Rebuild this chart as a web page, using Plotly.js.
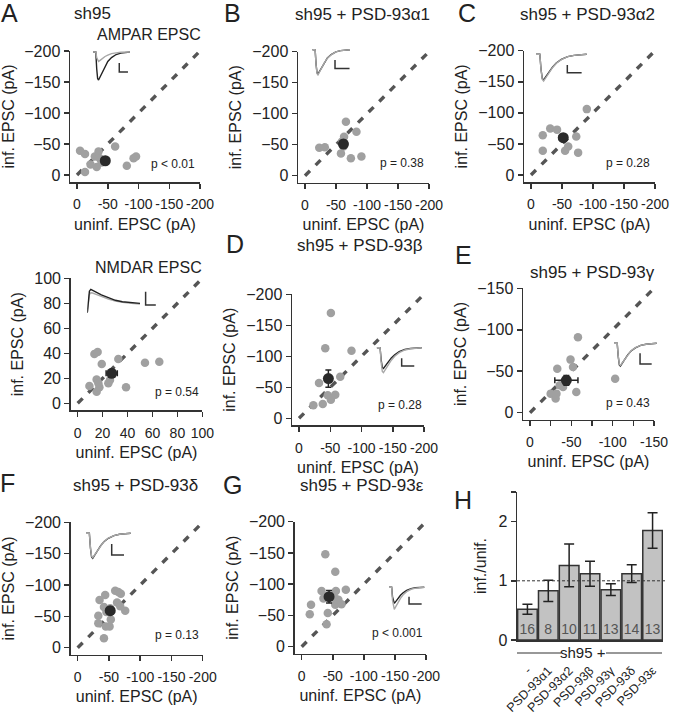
<!DOCTYPE html>
<html>
<head>
<meta charset="utf-8">
<script src="https://cdn.plot.ly/plotly-3.0.1.min.js"></script>
<style>
  html, body { margin: 0; padding: 0; background: #fff; }
  #fig { width: 678px; height: 719px; }
</style>
</head>
<body>
<div id="fig"></div>
<script>
const W = 678, H = 719;

// paired recordings, uninfected vs infected EPSC amplitude (pA)
const aUninf = [-13, -5, -13, -22, -32, -35, -29, -37, -62, -81, -92, -96, -40];
const aInf   = [-5, -39, -34, -17, -13, -38, -30, -27, -46, -15, -27, -30, -20];
const aMean = [-46, -23], aErr = [5, 4];

const bUninf = [-23, -32, -58, -66, -63, -60, -74, -83, -91, -62];
const bInf   = [-45, -46, -36, -87, -63, -55, -28, -71, -31, -47];
const bMean = [-62, -51], bErr = [6, 6];

const cUninf = [-19, -19, -31, -42, -55, -60, -73, -76, -90, -51];
const cInf   = [-64, -39, -75, -73, -39, -46, -62, -36, -106, -59];
const cMean = [-52, -60], cErr = [6, 5];

const nUninf = [9.4, 13.4, 16, 15.2, 15.2, 17.4, 19.3, 24.6, 25.9, 32.6, 38.8, 54, 65.5, 16.6];
const nInf   = [13.9, 39.5, 41, 19, 9.3, 12.8, 31.5, 16, 18.7, 35.5, 12.8, 32.5, 33.3, 16];
const nMean = [27.3, 24], nErr = [4.5, 2.5];

const dUninf = [-51, -42, -84, -32, -66, -23, -38, -46, -51, -58];
const dInf   = [-170, -113, -109, -57, -67, -21, -23, -37, -30, -38];
const dMean = [-47, -64], dErr = [4, 14];

const eUninf = [-58, -49, -33, -52, -103, -56, -25, -31, -32, -36, -40];
const eInf   = [-91, -64, -53, -55, -41, -25, -23, -17, -23, -33, -31];
const eMean = [-44, -39], eErr = [14, 6];

const fUninf = [-33, -33, -35, -44, -42, -42, -45, -51, -53, -60, -65, -69, -63, -68, -76, -52, -46];
const fInf   = [-51, -39, -76, -84, -65, -15, -34, -34, -45, -91, -89, -86, -72, -66, -59, -63, -57];
const fMean = [-52, -59], fErr = [5, 5];

const gUninf = [-38, -54, -15, -13, -32, -35, -42, -40, -55, -54, -71, -54, -64, -59];
const gInf   = [-148, -120, -67, -52, -89, -77, -54, -36, -89, -77, -91, -67, -68, -75];
const gMean = [-44, -80], gErr = [4, 10];

// panel H
const barLabels = ['-', 'PSD-93α1', 'PSD-93α2', 'PSD-93β', 'PSD-93γ', 'PSD-93δ', 'PSD-93ε'];
const barValues = [0.52, 0.83, 1.26, 1.12, 0.85, 1.12, 1.85];
const barErrors = [0.085, 0.18, 0.36, 0.21, 0.1, 0.15, 0.3];
const barCounts = [16, 8, 10, 11, 13, 14, 13];

// example traces (normalised)
const ampaTime    = [0, 3, 4, 5, 6, 8, 10, 13, 16, 20, 25, 30, 40];
const epscFull    = [0, 0, -0.6, -0.95, -1, -0.86, -0.7, -0.5, -0.34, -0.2, -0.09, -0.04, 0];
const epscLarger  = [0, 0, -0.62, -0.98, -1.04, -0.89, -0.72, -0.52, -0.35, -0.21, -0.09, -0.04, 0];
const epscNear    = [0, 0, -0.58, -0.92, -0.97, -0.84, -0.68, -0.49, -0.33, -0.19, -0.09, -0.04, 0];
const epscMid     = [0, 0, -0.5, -0.79, -0.83, -0.71, -0.58, -0.41, -0.28, -0.16, -0.07, -0.03, 0];
const epscSmaller = [0, 0, -0.44, -0.69, -0.73, -0.63, -0.51, -0.36, -0.25, -0.14, -0.06, -0.02, 0];
const epscSmall   = [0, 0, -0.2, -0.32, -0.34, -0.29, -0.23, -0.16, -0.11, -0.06, -0.03, -0.01, 0];
const nmdaTime  = [0, 3, 6, 10, 15, 25, 40, 60, 80, 100, 125, 150];
const nmdaUninf = [0, 0.6, 0.92, 1, 0.97, 0.88, 0.76, 0.63, 0.53, 0.47, 0.42, 0.4];
const nmdaInf   = [0, 0.5, 0.78, 0.85, 0.84, 0.78, 0.68, 0.58, 0.5, 0.44, 0.4, 0.37];

const font = 'Liberation Sans, Arial, sans-serif';
const ink = '#222';
const ax = i => (i === 1 ? 'xaxis' : 'xaxis' + i);
const ay = i => (i === 1 ? 'yaxis' : 'yaxis' + i);
const rx = i => (i === 1 ? 'x' : 'x' + i);
const ry = i => (i === 1 ? 'y' : 'y' + i);

const panels = [
  { n: 1, x0: 77, xEnd: 200, y0: 175, yEnd: 51, end: -200, dtick: 50, xs: aUninf, ys: aInf, mean: aMean, err: aErr },
  { n: 2, x0: 305, xEnd: 429, y0: 175.7, yEnd: 51.7, end: -200, dtick: 50, xs: bUninf, ys: bInf, mean: bMean, err: bErr },
  { n: 3, x0: 531, xEnd: 655, y0: 175, yEnd: 50.7, end: -200, dtick: 50, xs: cUninf, ys: cInf, mean: cMean, err: cErr },
  { n: 4, x0: 77.7, xEnd: 202.3, y0: 403.3, yEnd: 278.3, end: 100, dtick: 20, xs: nUninf, ys: nInf, mean: nMean, err: nErr },
  { n: 5, x0: 299, xEnd: 424, y0: 418.3, yEnd: 294.3, end: -200, dtick: 50, xs: dUninf, ys: dInf, mean: dMean, err: dErr },
  { n: 6, x0: 530, xEnd: 654, y0: 412.7, yEnd: 288.3, end: -150, dtick: 50, minor: 25, xs: eUninf, ys: eInf, mean: eMean, err: eErr },
  { n: 7, x0: 77.7, xEnd: 202.7, y0: 647.7, yEnd: 522.3, end: -200, dtick: 50, xs: fUninf, ys: fInf, mean: fMean, err: fErr },
  { n: 8, x0: 301.7, xEnd: 426, y0: 646.7, yEnd: 521.7, end: -200, dtick: 50, xs: gUninf, ys: gInf, mean: gMean, err: gErr }
];

const layout = {
  width: W, height: H,
  margin: { l: 0, r: 0, t: 0, b: 0 },
  paper_bgcolor: '#fff', plot_bgcolor: 'rgba(0,0,0,0)',
  font: { family: font, color: ink, size: 16 },
  showlegend: false,
  bargap: 0.06,
  annotations: [],
  shapes: []
};
const traces = [];

const baseAxis = {
  showline: true, linecolor: '#333', linewidth: 1.5,
  ticks: 'outside', ticklen: 5, tickwidth: 1.5, tickcolor: '#333',
  showgrid: false, zeroline: false, fixedrange: true,
  tickfont: { size: 16, color: ink }
};

panels.forEach(p => {
  const pad = 7;
  const xpadVal = -Math.sign(p.end) * pad * Math.abs(p.end) / (p.xEnd - p.x0);
  const ypadVal = -Math.sign(p.end) * pad * Math.abs(p.end) / (p.y0 - p.yEnd);
  const tickVals = [];
  for (let v = 0; Math.abs(v) <= Math.abs(p.end); v += Math.sign(p.end) * p.dtick) tickVals.push(v);
  layout[ax(p.n)] = {
    ...baseAxis,
    domain: [(p.x0 - pad) / W, p.xEnd / W],
    range: [xpadVal, p.end],
    tickvals: tickVals, ticktext: tickVals.map(String),
    tickangle: 0, tickfont: { size: 14, color: ink }, ticklabelstandoff: 4,
    anchor: ry(p.n),
    title: { text: 'uninf. EPSC (pA)', font: { size: 16 }, standoff: 7 },
    minor: p.minor ? { dtick: p.minor, ticks: 'outside', ticklen: 5, tickwidth: 1.5, tickcolor: '#333' } : undefined
  };
  layout[ay(p.n)] = {
    ...baseAxis,
    domain: [1 - (p.y0 + pad) / H, 1 - p.yEnd / H],
    range: [ypadVal, p.end],
    dtick: p.dtick, tick0: 0,
    anchor: rx(p.n),
    title: { text: 'inf. EPSC (pA)', font: { size: 16 }, standoff: 6 }
  };
  traces.push({
    x: [0, p.end], y: [0, p.end], xaxis: rx(p.n), yaxis: ry(p.n),
    mode: 'lines', line: { color: '#555', width: 3.4, dash: '7px,8px' }, hoverinfo: 'skip'
  });
  traces.push({
    x: p.xs, y: p.ys, xaxis: rx(p.n), yaxis: ry(p.n),
    mode: 'markers', marker: { size: 8.5, color: '#a0a0a0' }
  });
  traces.push({
    x: [p.mean[0]], y: [p.mean[1]], xaxis: rx(p.n), yaxis: ry(p.n),
    mode: 'markers', marker: { size: 11, color: '#2a2a2a' },
    error_x: { type: 'data', array: [p.err[0]], color: '#222', thickness: 1.5, width: 3 },
    error_y: { type: 'data', array: [p.err[1]], color: '#222', thickness: 1.5, width: 3 }
  });
});

// example trace insets
const insets = [
  { n: 10, left: 93, right: 130, base: 52, peak: 80, uninf: epscFull, inf: epscSmall, sb: [28.4, -0.39, -0.71, 37.8] },
  { n: 11, left: 312.3, right: 350, base: 49.7, peak: 74, uninf: epscFull, inf: epscLarger, sb: [24.1, -0.42, -0.77, 39.5] },
  { n: 12, left: 536, right: 586.7, base: 54.3, peak: 80, uninf: epscFull, inf: epscLarger, sb: [24.7, -0.42, -0.72, 36] },
  { n: 13, left: 376.7, right: 421.7, base: 347.7, peak: 372.7, uninf: epscMid, inf: epscFull, sb: [22.2, -0.42, -0.73, 33.4] },
  { n: 14, left: 614, right: 656.7, base: 343.3, peak: 366, uninf: epscFull, inf: epscNear, sb: [24.4, -0.44, -0.91, 35.3] },
  { n: 15, left: 86, right: 130.7, base: 533.3, peak: 558.3, uninf: epscFull, inf: epscNear, sb: [23, -0.43, -0.87, 34] },
  { n: 16, left: 389, right: 424.3, base: 587.3, peak: 609.3, uninf: epscSmaller, inf: epscFull, sb: [22.7, -0.43, -0.76, 37] }
];

insets.forEach(s => {
  const k = s.peak - s.base;
  layout[ax(s.n)] = { visible: false, domain: [s.left / W, (s.left + (s.right - s.left) * 41 / 40) / W], range: [0, 41], anchor: ry(s.n), fixedrange: true };
  layout[ay(s.n)] = { visible: false, domain: [1 - (s.peak + 0.12 * k) / H, 1 - (s.base - 0.08 * k) / H], range: [-1.12, 0.08], anchor: rx(s.n), fixedrange: true };
  traces.push({ x: ampaTime, y: s.uninf, xaxis: rx(s.n), yaxis: ry(s.n), mode: 'lines', line: { color: '#222', width: 1.4 } });
  traces.push({ x: ampaTime, y: s.inf, xaxis: rx(s.n), yaxis: ry(s.n), mode: 'lines', line: { color: '#a8a8a8', width: 1.4 } });
  traces.push({
    x: [s.sb[0], s.sb[0], s.sb[3]], y: [s.sb[1], s.sb[2], s.sb[2]], xaxis: rx(s.n), yaxis: ry(s.n),
    mode: 'lines', line: { color: '#333', width: 1.5 }
  });
});

// NMDA inset
{
  const n = 17, left = 87.3, tracePx = 52.7, base = 312.7, peak = 289.3, k = base - peak;
  layout[ax(n)] = { visible: false, domain: [left / W, (left + tracePx * 200 / 150) / W], range: [0, 200], anchor: ry(n), fixedrange: true };
  layout[ay(n)] = { visible: false, domain: [1 - (base + 0.1 * k) / H, 1 - (peak - 0.1 * k) / H], range: [-0.1, 1.1], anchor: rx(n), fixedrange: true };
  traces.push({ x: nmdaTime, y: nmdaInf, xaxis: rx(n), yaxis: ry(n), mode: 'lines', line: { color: '#a8a8a8', width: 1.4 } });
  traces.push({ x: nmdaTime, y: nmdaUninf, xaxis: rx(n), yaxis: ry(n), mode: 'lines', line: { color: '#222', width: 1.4 } });
  traces.push({ x: [166, 166, 195], y: [0.9, 0.33, 0.33], xaxis: rx(n), yaxis: ry(n), mode: 'lines', line: { color: '#333', width: 1.5 } });
}

// panel H bar chart
layout.xaxis9 = {
  domain: [517 / W, 663 / W], type: 'category', range: [-0.5, 6.5], anchor: 'y9',
  showline: true, linecolor: '#333', linewidth: 1.5, ticks: '', showgrid: false, zeroline: false,
  tickangle: -45, tickfont: { size: 12.5, color: ink }, ticklabelstandoff: 17, fixedrange: true
};
layout.yaxis9 = {
  ...baseAxis,
  domain: [1 - 640 / H, 1 - 492 / H], range: [0, 2.5], anchor: 'x9',
  tickvals: [0, 1, 2, 2.5], ticktext: ['0', '1', '2', ''],
  title: { text: 'inf./unif.', font: { size: 16 }, standoff: 8 }
};
traces.push({
  type: 'bar', x: barLabels, y: barValues, xaxis: 'x9', yaxis: 'y9',
  marker: { color: '#c2c2c2', line: { color: '#333', width: 1.5 } },
  error_y: { type: 'data', array: barErrors, color: '#222', thickness: 1.5, width: 5 },
  text: barCounts.map(String), textposition: 'inside', insidetextanchor: 'start', textangle: 0,
  textfont: { size: 14, color: '#555' }, constraintext: 'none'
});
layout.shapes.push(
  { type: 'line', xref: 'paper', yref: 'y9', x0: 517 / W, x1: 666 / W, y0: 1, y1: 1, layer: 'above', line: { color: '#333', width: 1, dash: '3px,2px' } },
  { type: 'line', xref: 'paper', yref: 'paper', x0: 517 / W, x1: 561 / W, y0: 1 - 653 / H, y1: 1 - 653 / H, line: { color: '#333', width: 1.2 } },
  { type: 'line', xref: 'paper', yref: 'paper', x0: 606 / W, x1: 662 / W, y0: 1 - 653 / H, y1: 1 - 653 / H, line: { color: '#333', width: 1.2 } }
);

const note = (text, x, y, size) => ({
  text, x: x / W, y: 1 - y / H, xref: 'paper', yref: 'paper', showarrow: false,
  xanchor: 'center', yanchor: 'middle', font: { size, color: ink, family: font }
});

layout.annotations.push(
  note('A', 9, 13, 25), note('B', 232, 13, 25), note('C', 467, 13, 25),
  note('D', 235, 244, 25), note('E', 463, 255, 25), note('F', 7, 483, 25),
  note('G', 232, 485, 25), note('H', 463, 500, 25),
  note('sh95', 92, 14, 17), note('sh95 + PSD-93α1', 362, 15, 17), note('sh95 + PSD-93α2', 587, 15, 17),
  note('sh95 + PSD-93β', 360, 245, 17), note('sh95 + PSD-93γ', 592, 272, 17),
  note('sh95 + PSD-93δ', 135, 485, 17), note('sh95 + PSD-93ε', 362, 485, 17),
  note('AMPAR EPSC', 149, 34, 16), note('NMDAR EPSC', 148, 267, 16),
  note('p < 0.01', 173, 164, 12), note('p = 0.38', 402, 163, 12), note('p = 0.28', 628, 163, 12),
  note('p = 0.54', 177, 392, 12), note('p = 0.28', 400, 405, 12), note('p = 0.43', 628, 403, 12),
  note('p = 0.13', 177, 635, 12), note('p < 0.001', 397, 633, 12),
  note('sh95 +', 583, 652, 15)
);

Plotly.newPlot('fig', traces, layout, { staticPlot: true, displayModeBar: false });
</script>
</body>
</html>
